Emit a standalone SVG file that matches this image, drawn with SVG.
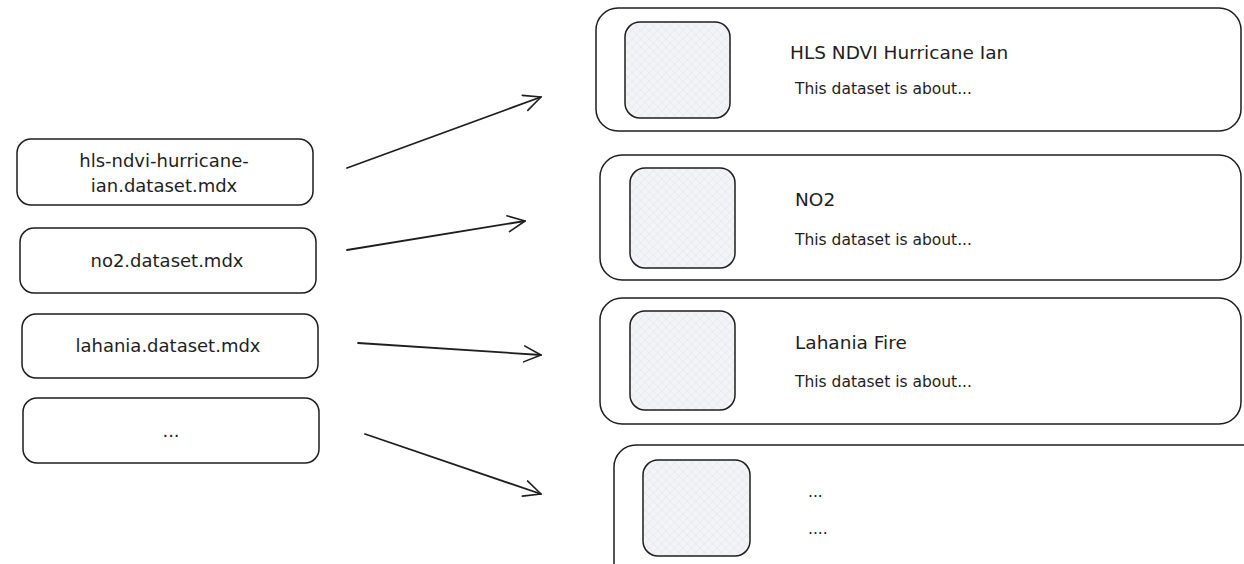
<svg xmlns="http://www.w3.org/2000/svg" width="1244" height="564" viewBox="0 0 1244 564">
<defs>
<pattern id="hatch" width="6" height="6" patternUnits="userSpaceOnUse" patternTransform="rotate(45)">
<rect width="6" height="6" fill="#f3f4f6"/>
<line x1="0" y1="0" x2="0" y2="6" stroke="#dde1e6" stroke-width="0.8"/>
<line x1="0" y1="0" x2="6" y2="0" stroke="#dde1e6" stroke-width="0.8"/>
</pattern>
<marker id="arr" viewBox="0 0 20 20" refX="18" refY="10" markerWidth="20" markerHeight="20" markerUnits="userSpaceOnUse" orient="auto">
<path d="M1,2 L18,10 L1,18" fill="none" stroke="#1e1e1e" stroke-width="1.6" stroke-linecap="round" stroke-linejoin="round"/>
</marker>
</defs>
<style>
.box{fill:#ffffff;stroke:#1e1e1e;stroke-width:1.5}
.img{fill:url(#hatch);stroke:#1e1e1e;stroke-width:1.5}
.lbl{font-family:"DejaVu Sans","Liberation Sans",sans-serif;font-size:18px;fill:#1e1e1e;text-anchor:middle}
.ttl{font-family:"DejaVu Sans","Liberation Sans",sans-serif;font-size:18.5px;fill:#1e1e1e}
.sub{font-family:"DejaVu Sans","Liberation Sans",sans-serif;font-size:15.5px;fill:#1e1e1e}
.conn{fill:none;stroke:#1e1e1e;stroke-width:1.8;stroke-linecap:round;marker-end:url(#arr)}
</style>
<rect width="1244" height="564" fill="#ffffff"/>
<g id="file-hls">
<rect class="box" x="17" y="139" width="296" height="66" rx="14"/>
<text class="lbl" x="164" y="167">hls-ndvi-hurricane-</text>
<text class="lbl" x="164" y="192">ian.dataset.mdx</text>
</g>
<g id="file-no2">
<rect class="box" x="20" y="228" width="296" height="65" rx="14"/>
<text class="lbl" x="167" y="267">no2.dataset.mdx</text>
</g>
<g id="file-lahania">
<rect class="box" x="22" y="314" width="296" height="64" rx="14"/>
<text class="lbl" x="168" y="352">lahania.dataset.mdx</text>
</g>
<g id="file-more">
<rect class="box" x="23" y="398" width="296" height="65" rx="14"/>
<text class="lbl" x="171" y="437">...</text>
</g>
<g id="card-hls">
<rect class="box" x="596" y="8" width="645" height="123" rx="22"/>
<rect class="img" x="625" y="22" width="105" height="96" rx="15"/>
<text class="ttl" x="790" y="59">HLS NDVI Hurricane Ian</text>
<text class="sub" x="795" y="94">This dataset is about...</text>
</g>
<g id="card-no2">
<rect class="box" x="600" y="155" width="641" height="125" rx="22"/>
<rect class="img" x="630" y="168" width="105" height="100" rx="15"/>
<text class="ttl" x="795" y="206">NO2</text>
<text class="sub" x="795" y="245">This dataset is about...</text>
</g>
<g id="card-lahania">
<rect class="box" x="600" y="298" width="641" height="126" rx="22"/>
<rect class="img" x="630" y="311" width="105" height="99" rx="15"/>
<text class="ttl" x="795" y="349">Lahania Fire</text>
<text class="sub" x="795" y="387">This dataset is about...</text>
</g>
<g id="card-more">
<rect class="box" x="614" y="445" width="650" height="140" rx="22"/>
<rect class="img" x="643" y="460" width="107" height="96" rx="15"/>
<text class="sub" x="808" y="497">...</text>
<text class="sub" x="808" y="534">....</text>
</g>
<g id="connectors">
<line class="conn" x1="347" y1="168" x2="541" y2="97"/>
<line class="conn" x1="347" y1="250" x2="525" y2="221"/>
<line class="conn" x1="358" y1="343" x2="541" y2="355"/>
<line class="conn" x1="365" y1="434" x2="541" y2="494"/>
</g>
</svg>
